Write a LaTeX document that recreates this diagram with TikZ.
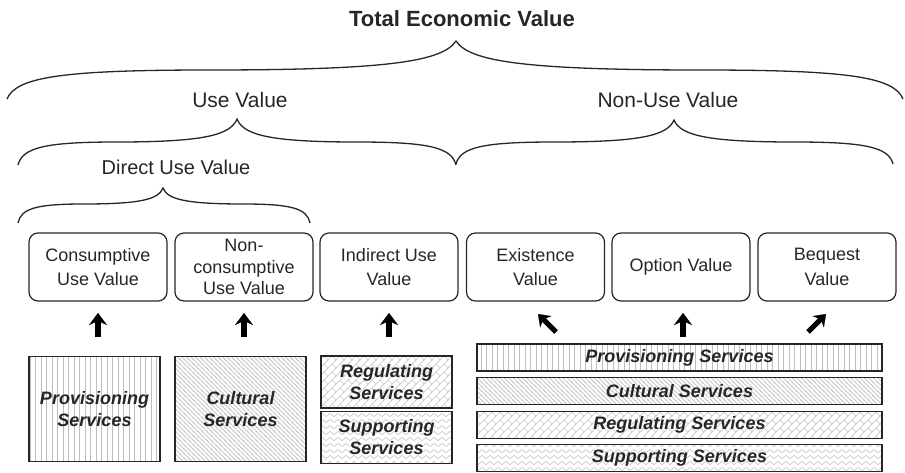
\documentclass[tikz,border=0pt]{standalone}
\usepackage{fontspec}
\setmainfont{Liberation Sans}
\usetikzlibrary{arrows.meta,patterns}

\definecolor{ink}{HTML}{262626}
\definecolor{hatch}{HTML}{BDBDBD}
\definecolor{hatchlight}{HTML}{CACACA}

\pgfdeclarepatternformonly{pvlines}{\pgfqpoint{0pt}{-1pt}}{\pgfqpoint{5.5pt}{5pt}}{\pgfqpoint{5.5pt}{4pt}}{%
  \pgfsetlinewidth{1.4pt}%
  \pgfpathmoveto{\pgfqpoint{2.75pt}{-1pt}}\pgfpathlineto{\pgfqpoint{2.75pt}{5pt}}%
  \pgfusepath{stroke}}
\pgfdeclarepatternformonly{pnwlines}{\pgfqpoint{-1pt}{-1pt}}{\pgfqpoint{5.5pt}{5.5pt}}{\pgfqpoint{4.5pt}{4.5pt}}{%
  \pgfsetlinewidth{0.9pt}%
  \pgfpathmoveto{\pgfqpoint{-1pt}{5.5pt}}\pgfpathlineto{\pgfqpoint{5.5pt}{-1pt}}%
  \pgfusepath{stroke}}
\pgfdeclarepatternformonly{pbricks}{\pgfqpoint{-1pt}{-1pt}}{\pgfqpoint{9pt}{9pt}}{\pgfqpoint{8pt}{8pt}}{%
  \pgfsetlinewidth{0.7pt}%
  \pgfpathmoveto{\pgfqpoint{-1pt}{-1pt}}\pgfpathlineto{\pgfqpoint{9pt}{9pt}}%
  \pgfpathmoveto{\pgfqpoint{4pt}{4pt}}\pgfpathlineto{\pgfqpoint{8pt}{0pt}}%
  \pgfusepath{stroke}}
\pgfdeclarepatternformonly{pwaves}{\pgfqpoint{0pt}{-1pt}}{\pgfqpoint{8pt}{7pt}}{\pgfqpoint{8pt}{6pt}}{%
  \pgfsetlinewidth{0.7pt}%
  \pgfpathmoveto{\pgfqpoint{0pt}{3pt}}%
  \pgfpathcurveto{\pgfqpoint{1.5pt}{5.2pt}}{\pgfqpoint{2.5pt}{5.2pt}}{\pgfqpoint{4pt}{3pt}}%
  \pgfpathcurveto{\pgfqpoint{5.5pt}{0.8pt}}{\pgfqpoint{6.5pt}{0.8pt}}{\pgfqpoint{8pt}{3pt}}%
  \pgfusepath{stroke}}

\newcommand{\mycurlybrace}[6]{% x1 x2 xtip ytip yflat yend
  \pgfmathsetmacro{\bwl}{#3-#1}\pgfmathsetmacro{\bwr}{#2-#3}%
  \pgfmathsetmacro{\bhh}{#6-#5}\pgfmathsetmacro{\btt}{#5-#4}%
  \draw[bracestyle] (#1,#6)
    .. controls ({#1+0.02*\bwl},{#6-0.75*\bhh}) and ({#1+0.12*\bwl},#5) .. ({#1+0.45*\bwl},#5)
    .. controls ({#3-0.15*\bwl},#5) and ({#3-0.03*\bwl},{#5-0.3*\btt}) .. (#3,#4)
    .. controls ({#3+0.03*\bwr},{#5-0.3*\btt}) and ({#3+0.15*\bwr},#5) .. ({#2-0.45*\bwr},#5)
    .. controls ({#2-0.12*\bwr},#5) and ({#2-0.02*\bwr},{#6-0.75*\bhh}) .. (#2,#6);}

\tikzset{
  bracestyle/.style={line width=1.3pt, draw=ink},
  valbox/.style={draw=ink, line width=1.2pt, rounded corners=9pt, minimum width=138pt,
    minimum height=68pt, align=center, text=ink, font=\fontsize{18}{21.5}\selectfont, inner sep=0pt},
  svc/.style={draw=ink, line width=1.6pt, align=center, text=ink, inner sep=0pt,
    font=\fontsize{18}{22}\selectfont\bfseries\itshape},
  svcbig/.style={svc, minimum width=131pt, minimum height=105pt},
  svchalf/.style={svc, minimum width=131pt, minimum height=52pt},
  svcbar/.style={svc, minimum width=405pt, minimum height=27pt},
  heading/.style={text=ink, font=\fontsize{21}{25}\selectfont, inner sep=0pt},
  upa/.style={line width=5.5pt, draw=black, line cap=butt,
    -{Stealth[length=12pt,width=18pt,inset=4pt,line width=0.1pt]}},
  diaga/.style={line width=5pt, draw=black, line cap=butt,
    -{Stealth[length=11pt,width=16pt,inset=3.5pt,line width=0.1pt]}},
}

\begin{document}
\begin{tikzpicture}[x=1pt,y=-1pt]
\useasboundingbox (0,0) rectangle (905,472);

% headings
\node[heading, font=\fontsize{22}{26}\selectfont\bfseries] (tev) at (462,19) {Total Economic Value};
\node[heading] (uv) at (240,100) {Use Value};
\node[heading] (nuv) at (668,100) {Non-Use Value};
\node[heading, font=\fontsize{20}{24}\selectfont] (duv) at (176,167) {Direct Use Value};

% braces
\mycurlybrace{7}{903}{456}{41}{70}{99}
\mycurlybrace{18}{456}{237}{119}{142}{165}
\mycurlybrace{456}{893}{674}{120}{142}{164}
\mycurlybrace{18}{310}{163}{188}{204}{223}

% value boxes
\node[valbox] (cuv) at (98,267) {Consumptive\\[3pt]Use Value};
\node[valbox] (ncuv) at (244,267) {Non-\\consumptive\\Use Value};
\node[valbox] (iuv) at (389,267) {Indirect Use\\[3pt]Value};
\node[valbox] (ev) at (535.5,267) {Existence\\[3pt]Value};
\node[valbox] (ov) at (681,267) {Option Value};
\node[valbox] (bv) at (827,267) {Bequest\\[3pt]Value};

% service boxes
\node[svcbig, pattern=pvlines, pattern color=hatch] (ps1) at (94.5,409) {Provisioning\\Services};
\node[svcbig, pattern=pnwlines, pattern color=hatchlight] (cs1) at (240.5,409) {Cultural\\Services};
\node[svchalf, pattern=pbricks, pattern color=hatchlight] (rs1) at (386.5,382) {Regulating\\Services};
\node[svchalf, pattern=pwaves, pattern color=hatchlight] (ss1) at (386.5,437.5) {Supporting\\Services};

\node[svcbar, pattern=pvlines, pattern color=hatch] (ps2) at (679.5,357.5) {Provisioning Services};
\node[svcbar, pattern=pnwlines, pattern color=hatchlight] (cs2) at (679.5,391) {Cultural Services};
\node[svcbar, pattern=pbricks, pattern color=hatchlight] (rs2) at (679.5,425) {Regulating Services};
\node[svcbar, pattern=pwaves, pattern color=hatchlight] (ss2) at (679.5,458) {Supporting Services};

% arrows
\coordinate (a1s) at (98,337);  \coordinate (a1e) at (98,313);
\coordinate (a2s) at (244,337); \coordinate (a2e) at (244,313);
\coordinate (a3s) at (389,337); \coordinate (a3e) at (389,313);
\coordinate (a4s) at (556,332); \coordinate (a4e) at (538,314);
\coordinate (a5s) at (683,337); \coordinate (a5e) at (683,313);
\coordinate (a6s) at (808,332); \coordinate (a6e) at (826,314);
\draw[upa] (a1s) -- (a1e);
\draw[upa] (a2s) -- (a2e);
\draw[upa] (a3s) -- (a3e);
\draw[diaga] (a4s) -- (a4e);
\draw[upa] (a5s) -- (a5e);
\draw[diaga] (a6s) -- (a6e);
\end{tikzpicture}
\end{document}
